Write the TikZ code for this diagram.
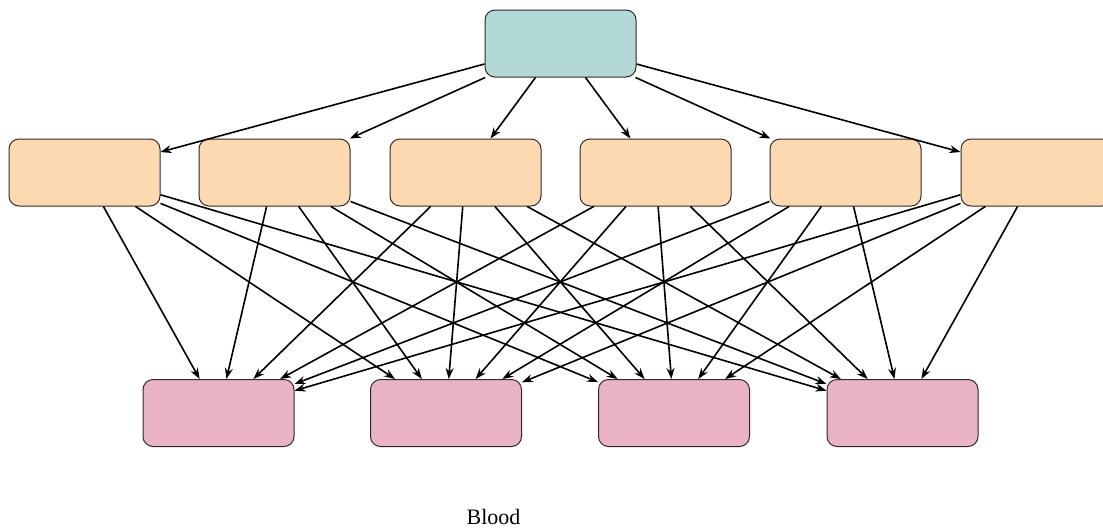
\documentclass[tikz,border=0pt]{standalone}
\usepackage{fontspec}
\setmainfont{Liberation Serif}
\usetikzlibrary{arrows.meta}

\definecolor{rootfill}{RGB}{178,216,216}
\definecolor{midfill}{RGB}{253,217,178}
\definecolor{leaffill}{RGB}{233,179,195}
\definecolor{boxline}{RGB}{50,40,40}

\tikzset{
  cell/.style={draw=boxline, line width=1pt, rounded corners=10pt,
    minimum width=151pt, minimum height=67pt, inner sep=0pt},
  link/.style={-{Stealth[length=11pt,width=8pt]}, line width=1.6pt, black}
}

\begin{document}
\begin{tikzpicture}[x=1pt, y=-1pt]
\useasboundingbox (0,0) rectangle (1103,531);
% top
\node[cell, fill=rootfill] (root) at (560.5,43.5) {};
% middle row
\foreach \i/\x in {1/84.5, 2/274.5, 3/465.5, 4/655.5, 5/845.5, 6/1036.5}
  \node[cell, fill=midfill] (mid\i) at (\x,172.5) {};
% bottom row
\foreach \j/\x in {1/218.5, 2/446, 3/674, 4/902.5}
  \node[cell, fill=leaffill] (leaf\j) at (\x,413) {};
\node[font=\fontsize{22}{24}\selectfont, anchor=base] (caption) at (493.5,524) {Blood};

\foreach \i in {1,...,6}
  \draw[link] (root) -- (mid\i);
\foreach \i in {1,...,6}
  \foreach \j in {1,...,4}
    \draw[link] (mid\i) -- (leaf\j);
\end{tikzpicture}
\end{document}
